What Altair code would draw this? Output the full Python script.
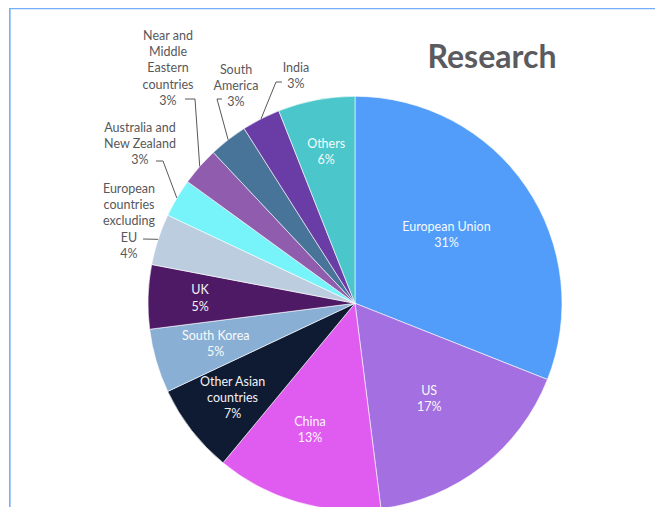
import math
import altair as alt
import pandas as pd

# ---- data ----
regions = ["European Union", "US", "China", "Other Asian countries", "South Korea", "UK",
           "European countries excluding EU", "Australia and New Zealand",
           "Near and Middle Eastern countries", "South America", "India", "Others"]
shares = [31, 17, 13, 7, 5, 5, 4, 3, 3, 3, 3, 6]
label_lines = ["European Union", "US", "China", "Other Asian\ncountries", "South Korea", "UK",
               "European\ncountries\nexcluding\nEU", "Australia and\nNew Zealand",
               "Near and\nMiddle\nEastern\ncountries", "South\nAmerica", "India", "Others"]
inside = [True, True, True, True, True, True, False, False, False, False, False, True]
title_text = "Research"

# ---- styles / layout ----
colors = ["#529DFA", "#A46FE0", "#E05BEF", "#0F1A33", "#8AAFD4", "#4E1A66",
          "#BDCDE0", "#77F4FA", "#905DAE", "#48749A", "#6A3DA6", "#4BC6CA"]
W, H = 647, 499
CX, CY, R = 347, 295.3, 207
LH = 16.2
inner_radius = {"European Union": 113, "US": 121, "China": 133, "Other Asian countries": 155,
                "South Korea": 145, "UK": 155, "Others": 154}
inner_nudge = {"European Union": (-2, -5), "China": (-8, -1)}
# outer label block centers and leader knee / end points (chart pixels)
outer_layout = {
    "European countries excluding EU": ((121, 213.5), (135, 231), (135, 231)),
    "Australia and New Zealand": ((132, 136.3), (155, 153), (148, 153)),
    "Near and Middle Eastern countries": ((160, 60.5), (187, 91), (177, 91)),
    "South America": ((228, 77.7), (209, 91), (214, 91)),
    "India": ((288, 68.3), (268, 74), (274, 74)),
}
FONT = "Lato"
GREY = "#58585B"

total = sum(shares)
cum = 0
mids = []
for s in shares:
    mids.append((cum + s / 2) / total * 2 * math.pi)
    cum += s

df = pd.DataFrame({
    "idx": list(range(len(regions))),
    "region": regions,
    "share": shares,
})

ins_rows, out_rows, line_rows = [], [], []
for i, reg in enumerate(regions):
    txt = f"{label_lines[i]}\n{shares[i]}%"
    n = txt.count("\n") + 1
    a = mids[i]
    if inside[i]:
        r = inner_radius[reg]
        ndx, ndy = inner_nudge.get(reg, (0, 0))
        cx, cy = CX + r * math.sin(a) + ndx, CY - r * math.cos(a) + ndy
        ins_rows.append({"region": reg, "txt": txt, "px": cx, "py": cy - (n - 1) * LH / 2})
    else:
        (lx, ly), (kx, ky), (ex, ey) = outer_layout[reg]
        out_rows.append({"region": reg, "txt": txt, "px": lx, "py": ly - (n - 1) * LH / 2})
        sx, sy = CX + R * math.sin(a), CY - R * math.cos(a)
        for k, (x, y) in enumerate([(sx, sy), (kx, ky), (ex, ey)]):
            line_rows.append({"region": reg, "k": k, "px": x, "py": y})

pie = alt.Chart(df).mark_arc(outerRadius=R, stroke="white", strokeWidth=0.6).encode(
    theta=alt.Theta("share:Q", stack=True),
    order=alt.Order("idx:Q"),
    color=alt.Color("region:N", scale=alt.Scale(domain=regions, range=colors), legend=None),
    x=alt.value(CX), y=alt.value(CY),
)

in_text = alt.Chart(pd.DataFrame(ins_rows)).mark_text(
    font=FONT, fontSize=12.5, color="white", lineBreak="\n", lineHeight=LH,
    align="center", baseline="middle", opacity=0.95,
).encode(
    x=alt.X("px:Q", scale=None),
    y=alt.Y("py:Q", scale=None),
    text="txt:N",
)

out_text = alt.Chart(pd.DataFrame(out_rows)).mark_text(
    font=FONT, fontSize=12.5, color=GREY, lineBreak="\n", lineHeight=LH,
    align="center", baseline="middle",
).encode(
    x=alt.X("px:Q", scale=None),
    y=alt.Y("py:Q", scale=None),
    text="txt:N",
)

leaders = alt.Chart(pd.DataFrame(line_rows)).mark_line(color=GREY, strokeWidth=1).encode(
    x=alt.X("px:Q", scale=None),
    y=alt.Y("py:Q", scale=None),
    detail="region:N",
    order="k:Q",
)

title = alt.Chart(pd.DataFrame({"t": [title_text]})).mark_text(
    font=FONT, fontSize=32, fontWeight="bold", color="#5A5A5F", align="center",
    baseline="alphabetic",
).encode(text="t:N", x=alt.value(484), y=alt.value(60))

border_top = alt.Chart(pd.DataFrame({"a": [0]})).mark_rule(color="#74AEF8", strokeWidth=1.6).encode(
    x=alt.value(1), x2=alt.value(W), y=alt.value(0.4))
border_left = alt.Chart(pd.DataFrame({"a": [0]})).mark_rule(color="#74AEF8", strokeWidth=1.6).encode(
    x=alt.value(1.8), y=alt.value(0), y2=alt.value(H))

chart = alt.layer(border_top, border_left, pie, leaders, in_text, out_text, title).resolve_scale(
    x="independent", y="independent"
).properties(
    width=W, height=H, autosize=alt.AutoSizeParams(type="none"), padding=0,
).configure_view(stroke=None)

chart.save("out.html", embed_options={"renderer": "svg", "actions": False})
